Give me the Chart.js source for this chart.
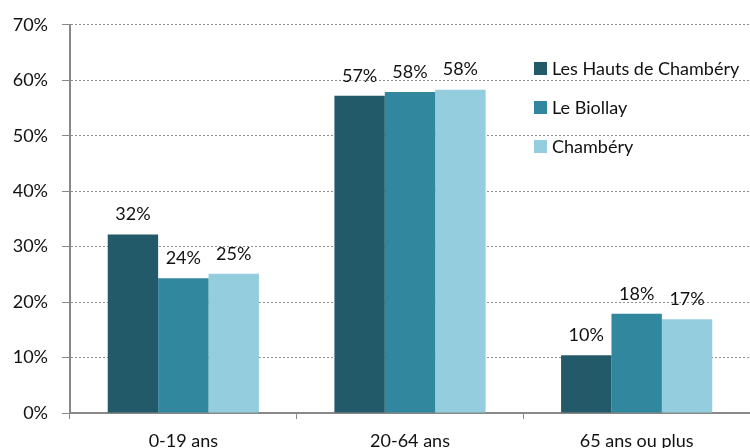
<!DOCTYPE html>
<html>
<head>
<meta charset="utf-8">
<script src="https://cdn.jsdelivr.net/npm/chart.js@4/dist/chart.umd.min.js"></script>
<style>
  html, body { margin: 0; padding: 0; background: #ffffff; }
  #wrap { width: 750px; height: 448px; }
</style>
</head>
<body>
<div id="wrap"><canvas id="c" width="750" height="448"></canvas></div>
<script>
// Age groups
const categories = ['0-19 ans', '20-64 ans', '65 ans ou plus'];

// Share of population per age group (%)
const seriesNames = ['Les Hauts de Chambéry', 'Le Biollay', 'Chambéry'];
const hautsDeChambery = [32.2, 57.2, 10.4];
const leBiollay = [24.3, 57.9, 17.9];
const chambery = [25.1, 58.3, 16.9];

const yTicks = [0, 10, 20, 30, 40, 50, 60, 70];

const colors = ['#235a69', '#31879e', '#93cdde'];
const FONT = 'Lato, "Open Sans", sans-serif';
const TEXT = '#111111';

// Value labels above each bar
const barLabels = {
  id: 'barLabels',
  afterDatasetsDraw(chart) {
    const ctx = chart.ctx;
    ctx.save();
    ctx.font = '18px ' + FONT;
    ctx.fillStyle = TEXT;
    ctx.textAlign = 'center';
    ctx.textBaseline = 'middle';
    chart.data.datasets.forEach((ds, di) => {
      const meta = chart.getDatasetMeta(di);
      meta.data.forEach((bar, i) => {
        ctx.fillText(Math.round(ds.data[i]) + '%', bar.x, bar.y - 20);
      });
    });
    ctx.restore();
  }
};

// Legend drawn inside the plot area, top right
const innerLegend = {
  id: 'innerLegend',
  afterDraw(chart) {
    const ctx = chart.ctx;
    ctx.save();
    ctx.font = '18px ' + FONT;
    ctx.textAlign = 'left';
    ctx.textBaseline = 'middle';
    seriesNames.forEach((name, i) => {
      const cy = 68 + i * 39;
      ctx.fillStyle = colors[i];
      ctx.fillRect(534, cy - 6, 13, 13);
      ctx.fillStyle = TEXT;
      ctx.fillText(name, 552, cy + 1);
    });
    ctx.restore();
  }
};

const datasets = [hautsDeChambery, leBiollay, chambery].map((vals, i) => ({
  label: seriesNames[i],
  data: vals,
  backgroundColor: colors[i],
  borderWidth: 0,
  categoryPercentage: 0.667,
  barPercentage: 1.0
}));

new Chart(document.getElementById('c'), {
  type: 'bar',
  data: { labels: categories, datasets },
  options: {
    responsive: false,
    animation: false,
    layout: { padding: { top: 22, left: 0, right: 0, bottom: 0 } },
    plugins: {
      legend: { display: false },
      tooltip: { enabled: false }
    },
    scales: {
      x: {
        grid: {
          display: true,
          drawOnChartArea: false,
          drawTicks: true,
          tickLength: 6,
          tickColor: '#888888',
          tickWidth: 1,
          offset: true
        },
        border: { display: true, color: '#888888', width: 2 },
        ticks: {
          color: TEXT,
          font: { family: FONT, size: 18 },
          padding: 11
        },
        afterFit(scale) { scale.height = 35; }
      },
      y: {
        min: 0,
        max: 70,
        afterBuildTicks(scale) { scale.ticks = yTicks.map(v => ({ value: v })); },
        grid: {
          color: '#8f8f8f',
          lineWidth: 1,
          tickLength: 8,
          tickColor: '#888888',
          tickWidth: 1,
          tickBorderDash: [1, 0]
        },
        border: { display: true, color: '#888888', width: 2, dash: [2, 2] },
        ticks: {
          color: TEXT,
          font: { family: FONT, size: 18 },
          padding: 14,
          callback: v => v + '%'
        },
        afterFit(scale) { scale.width = 70; }
      }
    }
  },
  plugins: [barLabels, innerLegend]
});
</script>
</body>
</html>
